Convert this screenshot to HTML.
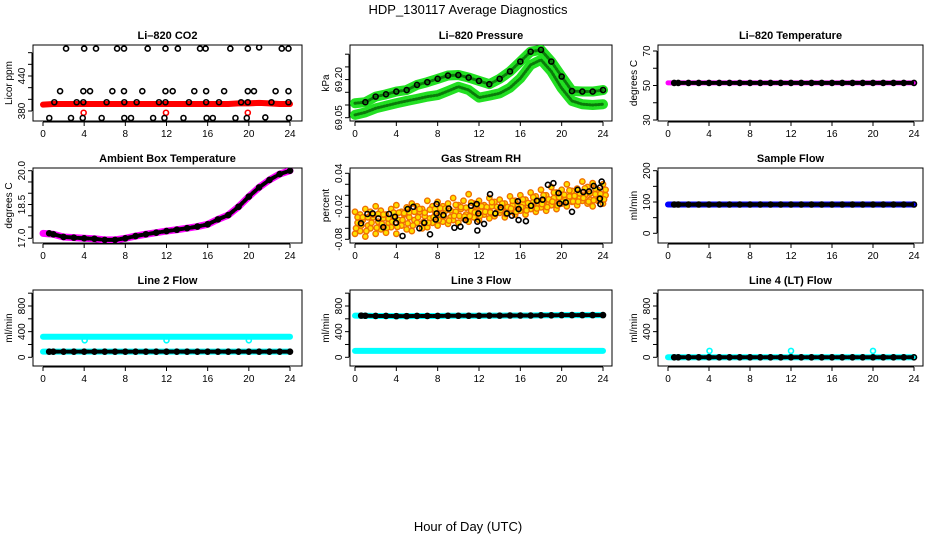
<!DOCTYPE html>
<html><head><meta charset="utf-8"><style>
html,body{margin:0;padding:0;background:#fff;}
svg{display:block;font-family:"Liberation Sans",sans-serif;}
</style></head><body>
<svg id="chart" width="936" height="540" viewBox="0 0 936 540" xmlns="http://www.w3.org/2000/svg">
<rect x="0" y="0" width="936" height="540" fill="#fff"/>
<text x="468" y="14" font-size="13" text-anchor="middle">HDP_130117  Average Diagnostics</text>
<text x="468" y="531" font-size="13" text-anchor="middle">Hour of Day (UTC)</text>
</svg>
<script>
// ---- data ----
const hours = [0,1,2,3,4,5,6,7,8,9,10,11,12,13,14,15,16,17,18,19,20,21,22,23,24];
const xTicks = [0,4,8,12,16,20,24];
// CO2
const co2Red = [391,392,392,392,392,392,392,392,392,392,392,392,392,392,392,392,392,392,392,393,393,394,393,392,392];
const co2BlackHours = [2.24,4.0,5.15,7.2,7.87,10.17,11.9,13.1,15.26,15.8,18.2,19.9,21.0,23.2,23.85,
 1.66,3.92,4.57,6.74,7.87,9.65,11.9,12.6,14.7,15.85,17.6,19.9,20.5,22.6,23.85,
 1.1,3.27,3.92,6.18,7.9,9.1,11.27,11.9,14.18,15.85,17.1,19.25,19.9,22.2,23.85,
 0.61,2.72,3.86,5.7,7.9,8.55,10.7,11.8,13.65,15.9,16.5,18.7,19.8,21.6,23.9];
const co2BlackValues = [487,487,487,487,487,487,487,487,487,487,487,487,489,487,487,
 414,414,414,414,414,414,414,414,414,414,414,414,414,414,414,
 395,395,395,395,395,395,395,395,395,395,395,395,395,395,395,
 368,368,368,368,368,368,368,368,368,368,368,368,368,369,368];
const co2OutHours = [3.95,11.95,19.9];
const co2OutValues = [377,377,377];
// Pressure
const presUpper = [69.107,69.111,69.133,69.142,69.153,69.159,69.179,69.19,69.203,69.216,69.218,69.208,69.195,69.182,69.203,69.232,69.271,69.31,69.317,69.271,69.212,69.155,69.153,69.153,69.159];
const presLower = [69.061,69.071,69.087,69.097,69.107,69.116,69.124,69.133,69.139,69.155,69.172,69.159,69.129,69.137,69.146,69.168,69.205,69.258,69.278,69.232,69.166,69.116,69.103,69.1,69.103];
// Li-820 temperature
const liTemp = [51.5,51.5,51.5,51.5,51.5,51.5,51.5,51.5,51.5,51.5,51.5,51.5,51.5,51.5,51.5,51.5,51.5,51.5,51.5,51.5,51.5,51.5,51.5,51.5,51.5];
// Ambient
const ambient = [17.22,17.18,17.06,17.03,17.0,16.98,16.93,16.93,17.0,17.1,17.18,17.25,17.32,17.38,17.45,17.52,17.62,17.84,18.03,18.4,18.85,19.26,19.59,19.85,20.0];
// RH cloud (half-hourly)
const rhA = [-0.03,-0.035,-0.025,-0.03,-0.02,-0.028,-0.035,-0.025,-0.018,-0.03,-0.022,-0.015,-0.02,-0.025,-0.01,-0.02,-0.012,-0.02,-0.015,-0.005,-0.018,-0.01,0.002,-0.015,-0.01,-0.018,-0.005,-0.012,-0.008,-0.015,-0.002,-0.01,0.0,-0.008,0.005,-0.002,0.01,0.0,0.015,0.005,0.01,0.02,0.008,0.012,0.025,0.015,0.022,0.01,0.02];
const rhB = [-0.05,-0.045,-0.055,-0.04,-0.048,-0.042,-0.05,-0.038,-0.045,-0.035,-0.04,-0.045,-0.03,-0.038,-0.042,-0.03,-0.035,-0.028,-0.04,-0.03,-0.025,-0.035,-0.028,-0.022,-0.03,-0.025,-0.02,-0.03,-0.022,-0.028,-0.018,-0.025,-0.015,-0.02,-0.012,-0.018,-0.01,-0.015,-0.005,-0.012,-0.008,-0.002,-0.01,-0.005,0.0,-0.008,0.002,-0.005,0.0];
const rhC = [-0.07,-0.065,-0.075,-0.06,-0.07,-0.062,-0.068,-0.058,-0.07,-0.055,-0.062,-0.065,-0.05,-0.06,-0.058,-0.05,-0.055,-0.048,-0.052,-0.045,-0.05,-0.042,-0.048,-0.04,-0.045,-0.035,-0.042,-0.038,-0.032,-0.04,-0.03,-0.035,-0.028,-0.035,-0.025,-0.03,-0.022,-0.028,-0.018,-0.025,-0.015,-0.02,-0.012,-0.018,-0.01,-0.015,-0.02,-0.01,-0.015];
const rhBlackHours = [0.58,1.2,1.71,2.26,2.74,3.29,3.87,3.97,4.6,5.1,5.65,6.23,6.71,7.26,7.81,7.9,7.9,8.55,9.07,9.62,10.2,10.7,11.23,11.78,11.84,11.84,11.94,12.49,13.07,13.58,14.1,14.7,15.18,15.76,15.83,15.83,16.54,17.03,17.6,18.15,18.67,19.2,19.7,19.8,20.4,21.0,21.55,22.1,22.65,23.1,23.7,23.7,23.75,23.87];
const rhBlackValues = [-0.051,-0.034,-0.033,-0.042,-0.058,-0.034,-0.039,-0.05,-0.074,-0.025,-0.021,-0.06,-0.05,-0.071,-0.044,-0.016,-0.033,-0.036,-0.024,-0.059,-0.057,-0.045,-0.019,-0.016,-0.064,-0.048,-0.033,-0.052,0.002,-0.033,-0.022,-0.033,-0.037,-0.011,-0.025,-0.045,-0.047,-0.019,-0.01,-0.008,0.019,0.022,0.004,-0.015,-0.013,-0.03,0.01,0.006,0.007,0.017,0.014,-0.006,-0.016,0.025];
// Flows
const sampleFlow = [92,92,92,92,92,92,92,92,92,92,92,92,92,92,92,92,92,92,92,92,92,92,92,92,92];
const line2Cyan = [320,320,320,320,320,320,320,320,320,320,320,320,320,320,320,320,320,320,320,320,320,320,320,320,320];
const line2Black = [88,88,88,88,88,88,88,88,88,88,88,88,88,88,88,88,88,88,88,88,88,88,88,88,88];
const line2DipHours = [4.05,12.0,20.0];
const line2DipValues = [265,265,265];
const line3Top = [650,648,645,645,642,642,645,645,645,648,648,648,648,650,650,652,652,652,655,655,658,658,658,658,658];
const line3Cyan = [100,100,100,100,100,100,100,100,100,100,100,100,100,100,100,100,100,100,100,100,100,100,100,100,100];
const line4Black = [0,0,0,0,0,0,0,0,0,0,0,0,0,0,0,0,0,0,0,0,0,0,0,0,0];
const line4SpikeHours = [4.05,12.0,20.0];
const line4SpikeValues = [100,100,100];

// ---- layout ----
const svg = document.getElementById('chart');
const NS = 'http://www.w3.org/2000/svg';
const colBox = [[33,302],[350,612],[658,923]];
const colX = [[43,290],[355,603],[668,914]];
const rowBox = [[45,121],[168,243],[290,366]];
function mk(tag, attrs, parent){const e=document.createElementNS(NS,tag);for(const k in attrs)e.setAttribute(k,attrs[k]);(parent||svg).appendChild(e);return e;}

function makePanel(o){
  const g = mk('g',{});
  
  
  const [bx0,bx1]=colBox[o.col],[by0,by1]=rowBox[o.row],[px0,px24]=colX[o.col];
  const xs = h => px0 + (px24-px0)*h/24;
  const ys = v => o.p1 + (v-o.v1)*(o.p2-o.p1)/(o.v2-o.v1);
  const box = mk('rect',{x:bx0,y:by0,width:bx1-bx0,height:by1-by0,fill:'none',stroke:'#000','stroke-width':1},g);
  
  
  const t = mk('text',{x:(bx0+bx1)/2,y:by0-6,'font-size':11,'font-weight':'bold','text-anchor':'middle'},g);
  t.textContent=o.title;
  
  
  const ax = mk('g',{},g);
  
  
  mk('line',{x1:xs(0),x2:xs(24),y1:by1+1,y2:by1+1,stroke:'#000'},ax);
  xTicks.forEach(h=>{
    mk('line',{x1:xs(h),x2:xs(h),y1:by1+1,y2:by1+5,stroke:'#000'},ax);
    const tl=mk('text',{x:xs(h),y:by1+16,'font-size':10,'text-anchor':'middle'},ax);
    tl.textContent=h;
    
    
  });
  const ay = mk('g',{},g);
  
  
  mk('line',{x1:bx0-1,x2:bx0-1,y1:ys(o.ticks[0]),y2:ys(o.ticks[o.ticks.length-1]),stroke:'#000'},ay);
  o.ticks.forEach((v,i)=>{
    mk('line',{x1:bx0-5,x2:bx0-1,y1:ys(v),y2:ys(v),stroke:'#000'},ay);
    if(o.labels[i]!==''){
      const tl=mk('text',{x:0,y:0,'font-size':10,'text-anchor':'middle',transform:`translate(${bx0-8},${ys(v)}) rotate(-90)`},ay);
      tl.textContent=o.labels[i];
      
      
    }
  });
  const yt=mk('text',{x:0,y:0,'font-size':10,'text-anchor':'middle',transform:`translate(${bx0-21},${(by0+by1)/2}) rotate(-90)`},g);
  yt.textContent=o.ylab;
  
  
  const clip = 'clip'+o.name;
  const cp = mk('clipPath',{id:clip},g); mk('rect',{x:bx0,y:by0,width:bx1-bx0,height:by1-by0},cp);
  const plot = mk('g',{'clip-path':`url(#${clip})`},g);
  
  
  return {xs,ys,plot};
}
function band(P,hs,vals,color,w,name,dash){
  const pts=hs.map((h,i)=>P.xs(h)+','+P.ys(vals[i])).join(' ');
  const pl=mk('polyline',{points:pts,fill:'none',stroke:color,'stroke-width':w,'stroke-linejoin':'round','stroke-linecap':'round'},P.plot);
  if(dash) pl.setAttribute('stroke-dasharray',dash);
  
  
}
function pts(P,hs,vals,stroke,fill,r,sw,name){
  hs.forEach((h,i)=>{
    const c=mk('circle',{cx:P.xs(h),cy:P.ys(vals[i]),r:r,fill:fill,stroke:stroke,'stroke-width':sw},P.plot);
    
    
  });
}
const halfHours = rhA.map((_,i)=>i*0.5);
const flatH = hours.map(h=>Math.max(h,0.6));

// Panel 1 CO2
let P = makePanel({name:'panel-co2',col:0,row:0,title:'Li\u2013820 CO2',ylab:'Licor ppm',v1:380,p1:111,v2:440,p2:76,ticks:[380,400,420,440,460,480],labels:['380','','','440','','']});
band(P,hours,co2Red,'#f00',6,'co2-red-series');
pts(P,co2OutHours,co2OutValues,'#f00','none',2.5,1.6,'co2-red-point');
pts(P,co2BlackHours,co2BlackValues,'#000','none',2.5,1.6,'co2-black-point');

// Panel 2 Pressure
P = makePanel({name:'panel-pressure',col:1,row:0,title:'Li\u2013820 Pressure',ylab:'kPa',v1:69.05,p1:117.7,v2:69.10,p2:105,ticks:[69.05,69.10,69.15,69.20,69.25,69.30],labels:['69.05','','','69.20','','']});
band(P,hours,presLower,'#22e022',10,'pressure-lower-band');
band(P,hours,presUpper,'#22e022',10,'pressure-upper-band');
band(P,hours,presLower,'#0a7a0a',3,'pressure-lower-texture','1 2');
band(P,hours,presUpper,'#0a7a0a',3,'pressure-upper-texture','1 2');
pts(P,hours.slice(1),presUpper.slice(1),'#000','none',2.5,1.6,'pressure-point');

// Panel 3 Li temp
P = makePanel({name:'panel-li-temp',col:2,row:0,title:'Li\u2013820 Temperature',ylab:'degrees C',v1:30,p1:120,v2:70,p2:51,ticks:[30,40,50,60,70],labels:['30','','50','','70']});
band(P,hours,liTemp,'#f0f',5,'li-temp-band');
band(P,flatH,liTemp,'#000',4,'li-temp-dense','4 2');
pts(P,flatH,liTemp,'#000','none',2.5,1.6,'li-temp-point');

// Panel 4 Ambient
P = makePanel({name:'panel-ambient',col:0,row:1,title:'Ambient Box Temperature',ylab:'degrees C',v1:17,p1:238.3,v2:20,p2:170.7,ticks:[17,17.5,18,18.5,19,19.5,20],labels:['17.0','','','18.5','','','20.0']});
band(P,hours,ambient,'#f0f',7,'ambient-band');
band(P,flatH,ambient,'#000',4,'ambient-dense','4 2');
pts(P,flatH,ambient,'#000','none',2.5,1.6,'ambient-point');

// Panel 5 RH
P = makePanel({name:'panel-rh',col:1,row:1,title:'Gas Stream RH',ylab:'percent',v1:-0.08,p1:239.3,v2:0.04,p2:173.3,ticks:[-0.08,-0.06,-0.04,-0.02,0,0.02,0.04],labels:['-0.08','','','-0.02','','','0.04']});
pts(P,halfHours,rhA,'#f07000','#ffe000',2.7,1.4,'rh-cloud-point');
pts(P,halfHours.map(h=>h+0.25),rhB,'#f07000','#ffe000',2.7,1.4,'rh-cloud-point');
pts(P,halfHours,rhC,'#f07000','#ffe000',2.7,1.4,'rh-cloud-point');
pts(P,halfHours.map(h=>h+0.25),rhA.map((v,i)=>(v+rhB[i])/2),'#f07000','#ffe000',2.7,1.4,'rh-cloud-point');
pts(P,halfHours.map(h=>h+0.1),rhB.map((v,i)=>(v+rhC[i])/2),'#f07000','#ffe000',2.7,1.4,'rh-cloud-point');
pts(P,rhBlackHours,rhBlackValues,'#000','none',2.5,1.6,'rh-black-point');

// Panel 6 Sample flow
P = makePanel({name:'panel-sample-flow',col:2,row:1,title:'Sample Flow',ylab:'ml/min',v1:0,p1:233.3,v2:200,p2:170.7,ticks:[0,50,100,150,200],labels:['0','','100','','200']});
band(P,hours,sampleFlow,'#00f',6,'sample-flow-band');
band(P,flatH,sampleFlow,'#000',4,'sample-flow-dense','4 2');
pts(P,flatH,sampleFlow,'#000','none',2.5,1.6,'sample-flow-point');

const flowTicks=[0,200,400,600,800,1000], flowLabels=['0','','400','','800',''];
// Panel 7 Line 2
P = makePanel({name:'panel-line2',col:0,row:2,title:'Line 2 Flow',ylab:'ml/min',v1:0,p1:357.3,v2:800,p2:306,ticks:flowTicks,labels:flowLabels});
band(P,hours,line2Cyan,'#0ff',6,'line2-cyan-band');
pts(P,line2DipHours,line2DipValues,'#0ff','none',2.5,1.6,'line2-dip-point');
band(P,hours,line2Black,'#0ff',6,'line2-lower-cyan');
band(P,flatH,line2Black,'#000',4,'line2-dense','4 2');
pts(P,flatH,line2Black,'#000','none',2.5,1.6,'line2-black-point');

// Panel 8 Line 3
P = makePanel({name:'panel-line3',col:1,row:2,title:'Line 3 Flow',ylab:'ml/min',v1:0,p1:357.3,v2:800,p2:306,ticks:flowTicks,labels:flowLabels});
band(P,hours,line3Cyan,'#0ff',6,'line3-cyan-band');
band(P,hours,line3Top,'#0ff',6,'line3-top-cyan');
band(P,flatH,line3Top,'#000',4,'line3-dense','4 2');
pts(P,flatH,line3Top,'#000','none',2.5,1.6,'line3-black-point');

// Panel 9 Line 4
P = makePanel({name:'panel-line4',col:2,row:2,title:'Line 4 (LT) Flow',ylab:'ml/min',v1:0,p1:357.3,v2:800,p2:306,ticks:flowTicks,labels:flowLabels});
band(P,hours,line4Black,'#0ff',6,'line4-cyan-band');
pts(P,line4SpikeHours,line4SpikeValues,'#0ff','none',2.5,1.6,'line4-spike-point');
band(P,flatH,line4Black,'#000',4,'line4-dense','4 2');
pts(P,flatH,line4Black,'#000','none',2.5,1.6,'line4-black-point');
</script>
</body></html>
